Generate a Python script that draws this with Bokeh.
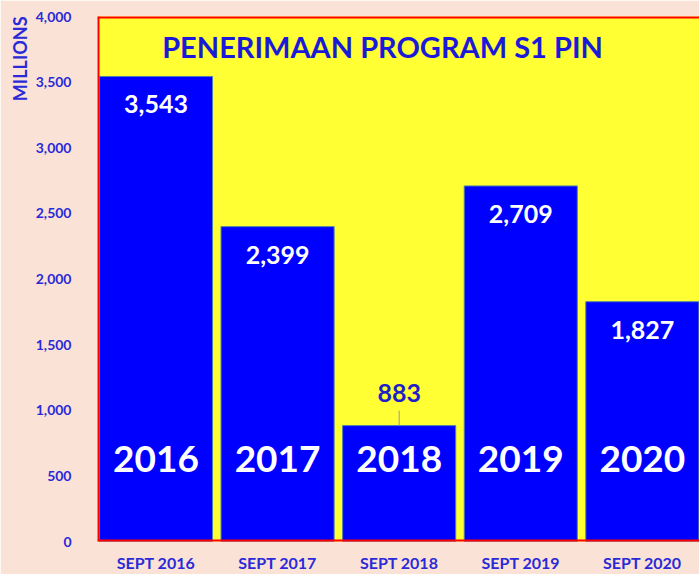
from bokeh.plotting import figure
from bokeh.models import (Range1d, FixedTicker, Span, Label, Title,
                          ColumnDataSource, NumeralTickFormatter)
from bokeh.core.properties import value
from bokeh.embed import file_html
from bokeh.resources import INLINE

# ---- data ----
categories = ["SEPT 2016", "SEPT 2017", "SEPT 2018", "SEPT 2019", "SEPT 2020"]
years = ["2016", "2017", "2018", "2019", "2020"]
values = [3543, 2399, 883, 2709, 1827]
y_ticks = [0, 500, 1000, 1500, 2000, 2500, 3000, 3500, 4000]
chart_title = "PENERIMAAN PROGRAM S1 PIN"
axis_title = "MILLIONS"

# ---- styles ----
FONT = "Lato"
TXT_BLUE = "#2a2ad8"
PEACH = "#fae3d6"
YELLOW = "#ffff33"
BAR_BLUE = "#0000ff"
RED = "#ff0000"

xs = list(range(len(categories)))
labels = [f"{v:,}" for v in values]
inside = [v > 1000 for v in values]
lab_color = ["white" if i else "#1f1fc8" for i in inside]
lab_off = [28 if i else -33 for i in inside]

p = figure(width=699, height=574, output_backend="svg", toolbar_location=None,
           x_range=Range1d(-0.481, 4.470), y_range=Range1d(0, 4000),
           min_border_left=97, min_border_right=0, min_border_top=16,
           min_border_bottom=33)
p.background_fill_color = YELLOW
p.border_fill_color = PEACH
p.outline_line_color = None
p.grid.visible = False

src = ColumnDataSource(dict(x=xs, top=values, lab=labels, col=lab_color,
                            off=lab_off, yr=years, zero=[0] * len(xs)))

p.vbar(x="x", top="top", bottom=0, width=0.93, source=src,
       fill_color=BAR_BLUE, line_color="#4f7fa8", line_width=1)

# leader line for outside label
units_per_px = 4000 / 525
out_x = [x for x, i in zip(xs, inside) if not i]
out_v = [v for v, i in zip(values, inside) if not i]
p.segment(x0=out_x, y0=out_v, x1=out_x, y1=[v + 15 * units_per_px for v in out_v],
          line_color="#9a9a9a", line_width=1)

p.text(x="x", y="top", text="lab", source=src, y_offset="off",
       text_color="col", text_align="center", text_baseline="middle",
       text_font=value(FONT), text_font_style="bold", text_font_size="25px")

p.text(x="x", y="zero", text="yr", source=src, y_offset=-83,
       text_color="white", text_align="center", text_baseline="middle",
       text_font=value(FONT), text_font_style="bold", text_font_size="37px")

# red border on left, top, bottom
for loc, dim in [(p.x_range.start, "height"), (p.y_range.end, "width"), (p.y_range.start, "width")]:
    p.add_layout(Span(location=loc, dimension=dim, line_color=RED, line_width=4))

p.add_layout(Label(x=285, y=495, x_units="screen", y_units="screen",
                   text=chart_title, text_align="center", text_baseline="middle",
                   text_font=FONT, text_font_style="bold", text_font_size="29px",
                   text_color="#1a1ad8"))

# axes
p.yaxis.ticker = FixedTicker(ticks=y_ticks)
p.yaxis.formatter = NumeralTickFormatter(format="0,0")
p.xaxis.ticker = FixedTicker(ticks=xs)
p.xaxis.major_label_overrides = {x: c for x, c in zip(xs, categories)}
for ax in (p.xaxis, p.yaxis):
    ax.axis_line_color = None
    ax.major_tick_line_color = None
    ax.minor_tick_line_color = None
    ax.major_label_text_font = FONT
    ax.major_label_text_font_style = "bold"
    ax.major_label_text_color = TXT_BLUE
p.yaxis.major_label_text_font_size = "14px"
p.yaxis.major_label_standoff = 20
p.xaxis.major_label_text_font_size = "16px"
p.xaxis.major_label_standoff = 5

p.add_layout(Title(text=axis_title, align="right", text_font=FONT,
                   text_font_style="bold", text_font_size="18px",
                   text_color=TXT_BLUE, standoff=4), "left")

open("out.html", "w").write(file_html(p, INLINE))
